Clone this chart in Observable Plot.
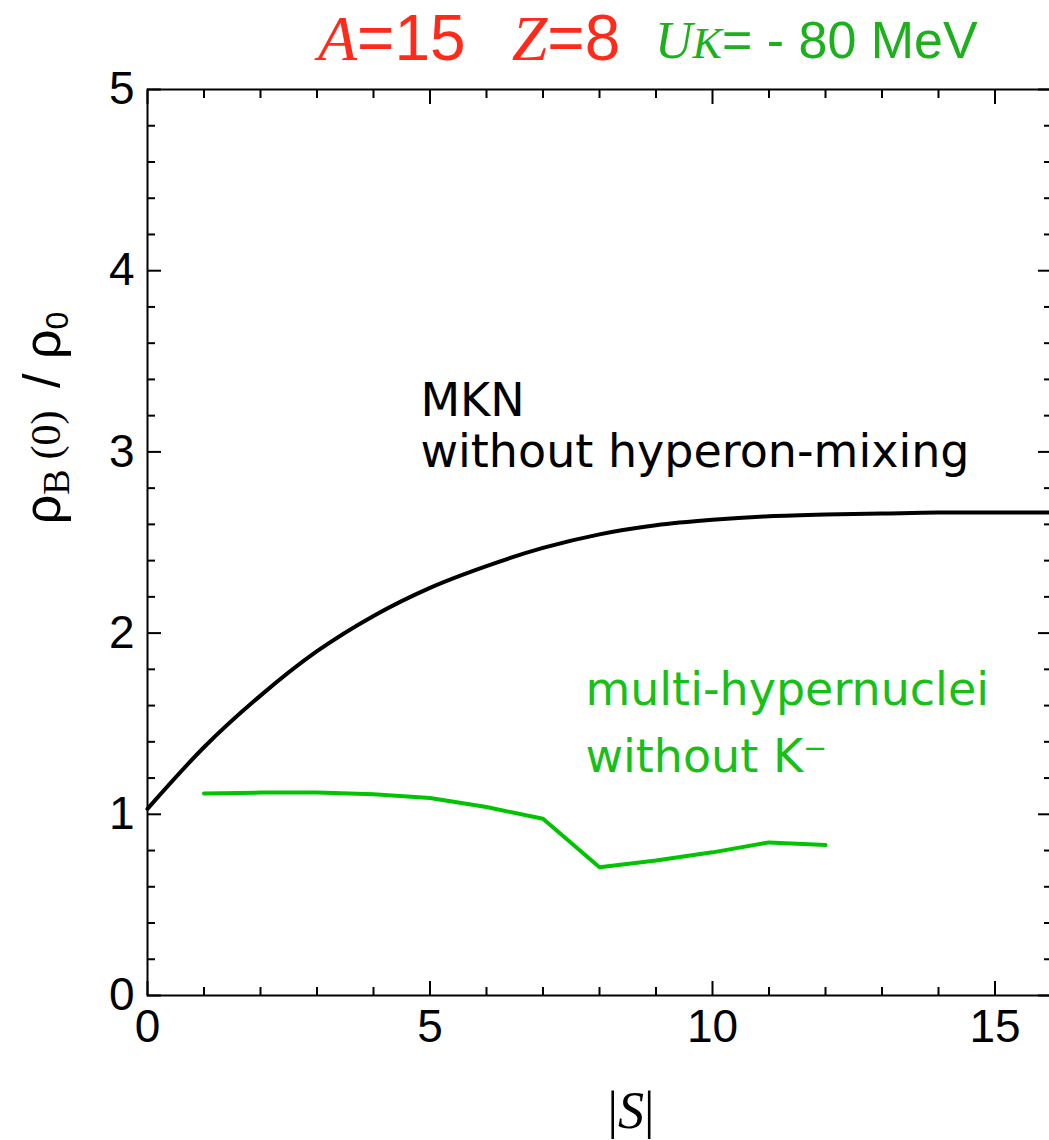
<!DOCTYPE html>
<html><head><meta charset="utf-8">
<script src="https://cdn.jsdelivr.net/npm/d3@7"></script>
<script src="https://cdn.jsdelivr.net/npm/@observablehq/plot@0.6"></script>
<style>
html,body{margin:0;padding:0;background:#fff;overflow:hidden;width:1049px;height:1140px}
#chart{width:1056px}
#chart svg{display:block;max-width:none !important}
</style></head><body><div id="chart"></div>
<script>
// ---- data ----
const strangeness = [0, 1, 2, 3, 4, 5, 6, 7, 8, 9, 10, 11, 12, 13, 14, 15, 16];
const mknDensity = [1.03, 1.37, 1.655, 1.90, 2.095, 2.25, 2.37, 2.47, 2.545, 2.595, 2.625, 2.645, 2.655, 2.66, 2.665, 2.665, 2.665];
const hyperStrangeness = [1, 2, 3, 4, 5, 6, 7, 8, 9, 10, 11, 12];
const hyperDensity = [1.115, 1.12, 1.12, 1.11, 1.09, 1.04, 0.975, 0.708, 0.745, 0.79, 0.845, 0.83];
const xMajorTicks = [0, 5, 10, 15];
const xMinorTicks = [1, 2, 3, 4, 6, 7, 8, 9, 11, 12, 13, 14, 16];
const yMajorTicks = [0, 1, 2, 3, 4, 5];
const yMinorTicks = [0.2, 0.4, 0.6, 0.8, 1.2, 1.4, 1.6, 1.8, 2.2, 2.4, 2.6, 2.8, 3.2, 3.4, 3.6, 3.8, 4.2, 4.4, 4.6, 4.8];
const annotationText = ["MKN\nwithout hyperon-mixing", "multi-hypernuclei\nwithout K\u207B"];
const annotationX = [4.83, 7.75];
const annotationY = [2.914, 1.236];
const annotationColor = ["black", "#17c017"];
const annotationLineHeight = [1.12, 1.44];

const mkn = strangeness.map((s, i) => ({s, rho: mknDensity[i]}));
const hyp = hyperStrangeness.map((s, i) => ({s, rho: hyperDensity[i]}));

const SANS = "'Liberation Sans', Arial, Helvetica, sans-serif";
const SERIF = "'Liberation Serif', 'Times New Roman', serif";
const NOTE = "'DejaVu Sans', Verdana, sans-serif";

const tickOpts = {tickFormat: () => "", strokeWidth: 2, label: null};
const noteMarks = annotationText.map((t, i) =>
  Plot.text([{t, x: annotationX[i], y: annotationY[i]}], {
    x: "x", y: "y", text: "t", fill: annotationColor[i], textAnchor: "start",
    lineAnchor: "bottom", lineHeight: annotationLineHeight[i], fontSize: 46, fontFamily: NOTE
  }));

const plot = Plot.plot({
  width: 1056, height: 1140,
  marginLeft: 147, marginRight: 5, marginTop: 89, marginBottom: 145,
  x: {domain: [0, 16], label: null},
  y: {domain: [0, 5], label: null},
  style: {fontFamily: SANS, color: "black", background: "white", overflow: "visible", maxWidth: "none"},
  marks: [
    Plot.line(mkn, {x: "s", y: "rho", stroke: "black", strokeWidth: 4, curve: "monotone-x"}),
    Plot.line(hyp, {x: "s", y: "rho", stroke: "#00c400", strokeWidth: 4}),
    Plot.frame({stroke: "black", strokeWidth: 2}),
    Plot.axisX({...tickOpts, anchor: "bottom", ticks: xMajorTicks, tickSize: -14}),
    Plot.axisX({...tickOpts, anchor: "bottom", ticks: xMinorTicks, tickSize: -8}),
    Plot.axisX({...tickOpts, anchor: "top", ticks: xMajorTicks, tickSize: -14}),
    Plot.axisX({...tickOpts, anchor: "top", ticks: xMinorTicks, tickSize: -8}),
    Plot.axisY({...tickOpts, anchor: "left", ticks: yMajorTicks, tickSize: -14}),
    Plot.axisY({...tickOpts, anchor: "left", ticks: yMinorTicks, tickSize: -8}),
    Plot.axisY({...tickOpts, anchor: "right", ticks: yMajorTicks, tickSize: -14}),
    Plot.axisY({...tickOpts, anchor: "right", ticks: yMinorTicks, tickSize: -8}),
    Plot.axisX({anchor: "bottom", ticks: xMajorTicks, tickFormat: "d", tickSize: 0, tickPadding: 14, fontSize: 46, label: null, fill: "black"}),
    Plot.axisY({anchor: "left", ticks: yMajorTicks, tickFormat: "d", tickSize: 0, tickPadding: 13, fontSize: 46, label: null, fill: "black"}),
    ...noteMarks
  ]
});
document.getElementById("chart").appendChild(plot);

const svg = d3.select(plot);
// title
const t1 = svg.append("text").attr("x", 318).attr("y", 60).attr("text-anchor", "start").attr("font-size", 64).attr("fill", "#ff2a1a");
t1.append("tspan").attr("font-family", SERIF).attr("font-style", "italic").text("A");
t1.append("tspan").attr("font-family", SANS).text("=15");
t1.append("tspan").attr("dx", 46).attr("font-family", SERIF).attr("font-style", "italic").text("Z");
t1.append("tspan").attr("font-family", SANS).text("=8");
const t2 = svg.append("text").attr("x", 655).attr("y", 58).attr("text-anchor", "start").attr("font-size", 52).attr("fill", "#1cb01c");
t2.append("tspan").attr("font-family", SERIF).attr("font-style", "italic").text("U");
t2.append("tspan").attr("font-family", SERIF).attr("font-style", "italic").attr("font-size", 44).text("K");
t2.append("tspan").attr("font-family", SANS).text("= - 80 MeV");
// y label
const yl = svg.append("text").attr("transform", "translate(60,418) rotate(-90)").attr("text-anchor", "middle").attr("font-size", 52).attr("fill", "black");
yl.append("tspan").attr("font-family", SANS).text("\u03C1");
yl.append("tspan").attr("font-family", SERIF).attr("font-size", 38).attr("dy", 9).text("B");
yl.append("tspan").attr("font-family", SERIF).attr("font-size", 42).attr("dy", -9).attr("dx", 10).text("(0)");
yl.append("tspan").attr("font-family", SANS).attr("dx", 8).text(" / \u03C1");
yl.append("tspan").attr("font-family", SANS).attr("font-size", 32).attr("dy", 8).text("0");
// x label
const xl = svg.append("text").attr("x", 631).attr("y", 1128).attr("text-anchor", "middle").attr("font-size", 52).attr("font-family", SERIF).attr("fill", "black");
xl.append("tspan").text("|");
xl.append("tspan").attr("font-style", "italic").text("S");
xl.append("tspan").text("|");
</script></body></html>
